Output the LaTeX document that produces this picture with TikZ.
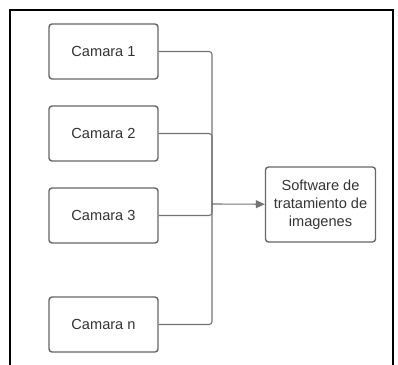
\documentclass[tikz,border=0pt]{standalone}
\usepackage{fontspec}
\setmainfont{Liberation Sans}
\usetikzlibrary{arrows.meta}

\begin{document}
\begin{tikzpicture}[x=1pt,y=-1pt,
    camerabox/.style={draw=black!60,line width=1.4pt,rounded corners=3pt,
        minimum width=109pt,minimum height=55pt,inner sep=0pt,text=black!80,
        font=\fontsize{14.6}{18}\selectfont},
    softbox/.style={camerabox,minimum width=110pt,minimum height=75pt,
        align=center},
    conn/.style={draw=black!55,line width=1.1pt,rounded corners=3pt}]
    \useasboundingbox (0,0) rectangle (398,364);
    \draw[line width=2pt] (10,366) -- (10,10) -- (393,10) -- (393,366);
    \node[softbox] (soft) at (320.5,204.5) {Software de\\tratamiento de\\imagenes};
    \coordinate (bus) at (212,204);
    \foreach \y/\n/\lbl in {51.5/1/Camara 1,133.5/2/Camara 2,215.5/3/Camara 3,324.5/n/Camara n} {
        \node[camerabox] (cam\n) at (103.5,\y) {\lbl};
        \draw[conn] (cam\n.east) -| (bus);
    }
    \draw[conn,-{Triangle[length=9pt,width=8pt]}] (bus) -- (soft);
\end{tikzpicture}
\end{document}
